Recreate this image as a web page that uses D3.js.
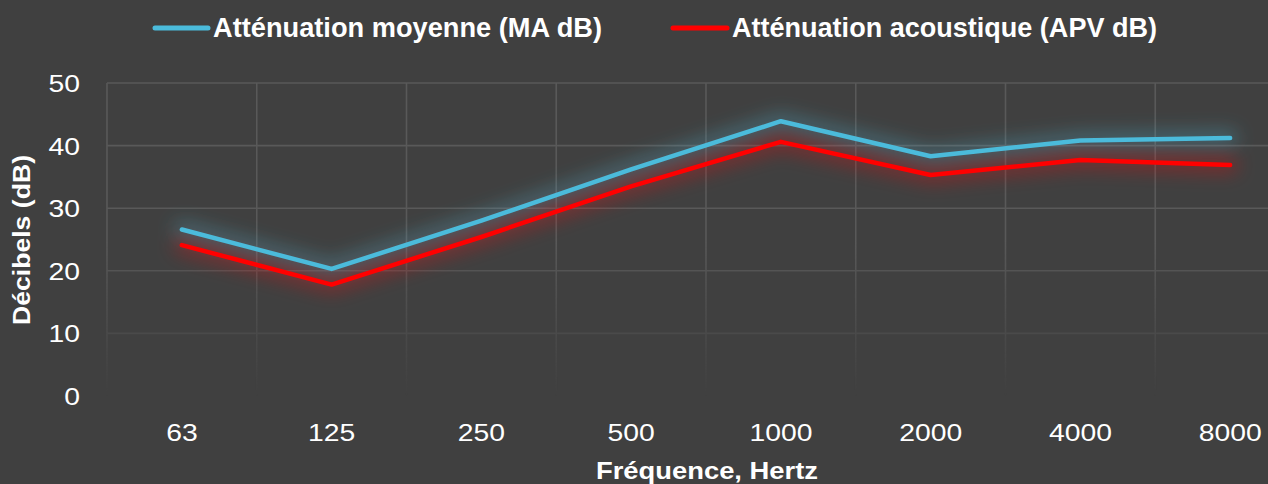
<!DOCTYPE html>
<html><head><meta charset="utf-8">
<script src="https://cdn.jsdelivr.net/npm/d3@7"></script>
<style>
html,body{margin:0;padding:0;background:#404040;overflow:hidden}
svg{display:block}
</style></head>
<body>
<svg id="chart" width="1268" height="484"></svg>
<script>
const categories = ["63","125","250","500","1000","2000","4000","8000"];
const seriesMA = [26.6, 20.3, 28.0, 36.2, 43.9, 38.3, 40.8, 41.2];
const seriesAPV = [24.1, 17.8, 25.4, 33.5, 40.6, 35.3, 37.7, 36.9];
const yTicks = [0, 10, 20, 30, 40, 50];
const seriesNames = ["Atténuation moyenne (MA dB)", "Atténuation acoustique (APV dB)"];
const seriesColors = ["#4bbbdb", "#ff0000"];

(function(){
const W = 1268, H = 484;
const svg = d3.select("#chart");
svg.append("rect").attr("width", W).attr("height", H).attr("fill", "#404040");

const plotLeft = 107, bandW = 149.75, plotTop = 83, plotBottom = 396;
const x = d3.scaleBand().domain(categories).range([plotLeft, plotLeft + bandW * categories.length]).padding(0);
const y = d3.scaleLinear().domain([0, 50]).range([plotBottom, plotTop]);

const defs = svg.append("defs");
const grad = defs.append("linearGradient").attr("id", "fadeGrad")
  .attr("gradientUnits", "userSpaceOnUse").attr("x1", 0).attr("x2", 0).attr("y1", plotTop).attr("y2", plotBottom);
grad.append("stop").attr("offset", "0%").attr("stop-color", "#fff").attr("stop-opacity", 1);
grad.append("stop").attr("offset", "50%").attr("stop-color", "#fff").attr("stop-opacity", 1);
grad.append("stop").attr("offset", "100%").attr("stop-color", "#fff").attr("stop-opacity", 0);
defs.append("mask").attr("id", "fadeMask").attr("maskUnits", "userSpaceOnUse")
  .attr("x", 0).attr("y", 0).attr("width", W + 200).attr("height", H)
  .append("rect").attr("x", 0).attr("y", plotTop - 5).attr("width", W + 200).attr("height", plotBottom - plotTop + 10)
  .attr("fill", "url(#fadeGrad)");

const glow = defs.append("filter").attr("id", "glow")
  .attr("x", "-20%").attr("y", "-60%").attr("width", "140%").attr("height", "220%");
glow.append("feGaussianBlur").attr("stdDeviation", 9);

// grid
const grid = svg.append("g").attr("mask", "url(#fadeMask)");
const gridColor = "#595959";
grid.selectAll("line.h").data(yTicks.filter(d => d > 0)).join("line")
  .attr("x1", plotLeft).attr("x2", plotLeft + bandW * categories.length)
  .attr("y1", d => y(d)).attr("y2", d => y(d))
  .attr("stroke", gridColor).attr("stroke-width", 1.6);
const vlines = categories.map(c => x(c)).concat([x(categories[categories.length-1]) + bandW]);
grid.selectAll("line.v").data(vlines).join("line")
  .attr("x1", d => d).attr("x2", d => d)
  .attr("y1", plotTop).attr("y2", plotBottom)
  .attr("stroke", gridColor).attr("stroke-width", 1.6);

// y axis ticks
const yAxis = d3.axisLeft(y).tickValues(yTicks).tickSize(0).tickPadding(0);
const yg = svg.append("g").attr("transform", "translate(80,0)").call(yAxis);
yg.select(".domain").remove();
yg.selectAll("text").attr("fill", "#ffffff")
  .style("font-family", "'Liberation Sans', Arial, sans-serif").style("font-size", "24px")
  .attr("dy", "0.35em");
yg.selectAll("text").each(function(){ const l = this.getComputedTextLength(); d3.select(this).attr("textLength", l*1.18).attr("lengthAdjust","spacingAndGlyphs"); });

// x axis ticks
const xAxis = d3.axisBottom(x).tickSize(0).tickPadding(0);
const xg = svg.append("g").attr("transform", "translate(0,433)").call(xAxis);
xg.select(".domain").remove();
xg.selectAll("text").attr("fill", "#ffffff").attr("y", 0).attr("dy", "0.35em")
  .style("font-family", "'Liberation Sans', Arial, sans-serif").style("font-size", "24px");
xg.selectAll("text").each(function(){ const l = this.getComputedTextLength(); d3.select(this).attr("textLength", l*1.18).attr("lengthAdjust","spacingAndGlyphs"); });

// lines
const lineGen = d3.line().x((d, i) => x(categories[i]) + x.bandwidth() / 2).y(d => y(d));
const allSeries = [seriesMA, seriesAPV];
allSeries.forEach((s, k) => {
  svg.append("path").datum(s).attr("d", lineGen).attr("fill", "none")
    .attr("stroke", seriesColors[k]).attr("stroke-width", 16).attr("stroke-opacity", 0.32)
    .attr("stroke-linejoin", "round").attr("stroke-linecap", "round").attr("filter", "url(#glow)");
});
allSeries.forEach((s, k) => {
  svg.append("path").datum(s).attr("d", lineGen).attr("fill", "none")
    .attr("stroke", seriesColors[k]).attr("stroke-width", 4.5)
    .attr("stroke-linejoin", "round").attr("stroke-linecap", "round");
});

// legend
const legendItems = [
  {x1: 155, x2: 208, tx: 213, tl: 389},
  {x1: 673, x2: 727, tx: 732, tl: 425}
];
legendItems.forEach((it, k) => {
  svg.append("line").attr("x1", it.x1).attr("x2", it.x2).attr("y1", 28).attr("y2", 28)
    .attr("stroke", seriesColors[k]).attr("stroke-width", 5).attr("stroke-linecap", "round");
  svg.append("text").attr("x", it.tx).attr("y", 37).text(seriesNames[k])
    .attr("fill", "#fff").style("font-family", "'Liberation Sans', Arial, sans-serif")
    .style("font-size", "27px").style("font-weight", "bold")
    .attr("textLength", it.tl).attr("lengthAdjust", "spacingAndGlyphs");
});

// axis titles
svg.append("text").attr("x", 707).attr("y", 479).attr("text-anchor", "middle")
  .text("Fréquence, Hertz").attr("fill", "#fff")
  .style("font-family", "'Liberation Sans', Arial, sans-serif").style("font-size", "23px").style("font-weight", "bold")
  .attr("textLength", 222).attr("lengthAdjust", "spacingAndGlyphs");
svg.append("text").attr("transform", "translate(30,240) rotate(-90)").attr("text-anchor", "middle")
  .text("Décibels (dB)").attr("fill", "#fff")
  .style("font-family", "'Liberation Sans', Arial, sans-serif").style("font-size", "23px").style("font-weight", "bold")
  .attr("textLength", 170).attr("lengthAdjust", "spacingAndGlyphs");
})();
</script>
</body></html>
